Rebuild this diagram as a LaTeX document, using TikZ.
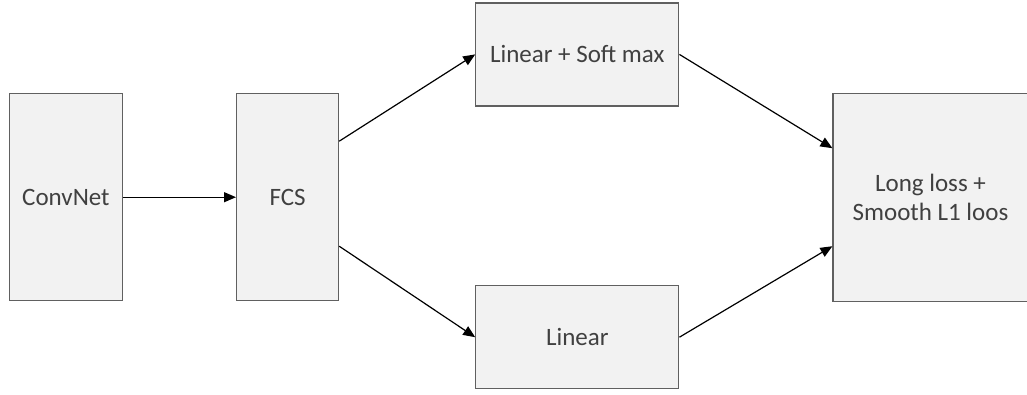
\documentclass[tikz,border=0pt]{standalone}
\usepackage{fontspec}
\setmainfont{Carlito}
\usepackage{tikz}
\usetikzlibrary{arrows.meta,positioning}
\definecolor{boxfill}{HTML}{F2F2F2}
\definecolor{boxline}{HTML}{606060}
\definecolor{boxtext}{HTML}{404040}

\begin{document}
\begin{tikzpicture}[x=1pt, y=1pt,
      box/.style={draw=boxline, line width=1.2pt, fill=boxfill, inner sep=0pt,
                  minimum height=207pt, text=boxtext, align=center,
                  font=\fontsize{25}{29}\selectfont},
      arr/.style={-{Triangle[length=12pt, width=10pt]}, line width=1.2pt, black}
    ]
      \useasboundingbox (0,0) rectangle (1027,-394);
      \node[box, minimum width=113pt] (conv) at (65.9,-197.2) {ConvNet};
      \node[box, minimum width=102pt, right=113pt of conv] (fcs) {FCS};
      \node[box, minimum width=203pt, minimum height=103pt,
            right=136pt of fcs, yshift=142.8pt] (sm) {Linear + Soft max};
      \node[box, minimum width=203pt, minimum height=103pt,
            right=136pt of fcs, yshift=-140pt] (lin) {Linear};
      \node[box, minimum width=195pt, minimum height=208pt,
            right=153pt of sm, yshift=-142.8pt] (loss) {Long loss +\\Smooth L1 loos};
      \draw[arr] (conv) -- (fcs);
      \draw[arr] ([yshift=56pt]fcs.east) -- (sm.west);
      \draw[arr] ([yshift=-49pt]fcs.east) -- (lin.west);
      \draw[arr] (sm.east) -- ([yshift=49pt]loss.west);
      \draw[arr] (lin.east) -- ([yshift=-49pt]loss.west);
    \end{tikzpicture}
\end{document}
